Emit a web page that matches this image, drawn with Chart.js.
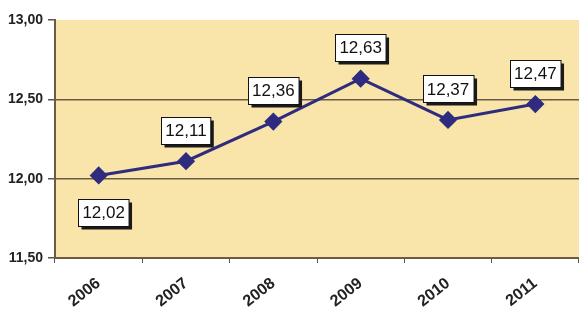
<!DOCTYPE html>
<html>
<head>
<meta charset="utf-8">
<script src="https://cdn.jsdelivr.net/npm/chart.js@4.4.1/dist/chart.umd.min.js"></script>
<style>
  html, body { margin: 0; padding: 0; background: #ffffff; }
  #wrap { width: 579px; height: 310px; }
</style>
</head>
<body>
<div id="wrap"><canvas id="c" width="579" height="310"></canvas></div>
<script>
// ----- Data -----
const years  = ['2006', '2007', '2008', '2009', '2010', '2011'];
const values = [12.02, 12.11, 12.36, 12.63, 12.37, 12.47];
const labelBelow = [true, false, false, false, false, false];
const yTicks = [11.5, 12.0, 12.5, 13.0];

const fmt = v => v.toFixed(2).replace('.', ',');

// ----- Plugins -----
const plotBackground = {
  id: 'plotBackground',
  beforeDraw(chart) {
    const { ctx, chartArea: a } = chart;
    ctx.save();
    ctx.fillStyle = '#f9e4aa';
    ctx.fillRect(a.left, a.top, a.right - a.left, a.bottom - a.top);
    ctx.restore();
  },
};

const boxLabels = {
  id: 'boxLabels',
  afterDatasetsDraw(chart) {
    const { ctx } = chart;
    const meta = chart.getDatasetMeta(0);
    ctx.save();
    ctx.font = '17px "Liberation Sans", Arial, sans-serif';
    ctx.textAlign = 'center';
    ctx.textBaseline = 'middle';
    meta.data.forEach((pt, i) => {
      const text = fmt(values[i]);
      const w = ctx.measureText(text).width + 8;
      const h = 27;
      const cx = pt.x + (labelBelow[i] ? 5 : 0);
      const cy = labelBelow[i] ? pt.y + 37 : pt.y - 31;
      const x = Math.round(cx - w / 2) + 0.5;
      const y = Math.round(cy - h / 2) + 0.5;
      // shadow
      ctx.fillStyle = '#1a1a1a';
      ctx.fillRect(x + 3, y + 3, w, h);
      ctx.fillStyle = '#ffffff';
      ctx.fillRect(x, y, w, h);
      ctx.strokeStyle = '#111111';
      ctx.lineWidth = 1;
      ctx.strokeRect(x, y, w, h);
      ctx.fillStyle = '#111111';
      ctx.fillText(text, cx, cy + 1);
    });
    ctx.restore();
  },
};

// ----- Chart -----
new Chart(document.getElementById('c'), {
  type: 'line',
  data: {
    labels: years,
    datasets: [{
      data: values,
      borderColor: '#2f2b7f',
      borderWidth: 3,
      pointStyle: 'rectRot',
      pointRadius: 7,
      pointBackgroundColor: '#2f2b7f',
      pointBorderColor: '#2f2b7f',
      tension: 0,
      clip: false,
    }],
  },
  options: {
    responsive: false,
    animation: false,
    layout: { autoPadding: false, padding: { top: 20, right: -4, left: 0, bottom: 0 } },
    plugins: { legend: { display: false }, tooltip: { enabled: false } },
    scales: {
      x: {
        offset: true,
        afterFit(s) { s.height = 52; s.paddingLeft = 0; s.paddingRight = 0; },
        grid: {
          offset: true,
          drawOnChartArea: false,
          drawTicks: true,
          tickLength: 5,
          tickColor: '#555',
        },
        border: { color: '#6b5a44', width: 2 },
        ticks: {
          color: '#222',
          minRotation: 38,
          maxRotation: 38,
          padding: 11,
          font: { family: '"Liberation Sans", Arial, sans-serif', size: 16, weight: 'bold' },
        },
      },
      y: {
        min: 11.5,
        max: 13,
        afterFit(s) { s.width = 55; },
        afterBuildTicks(s) { s.ticks = yTicks.map(v => ({ value: v })); },
        grid: {
          color: c => (c.tick && (c.tick.value === 13 || c.tick.value === 11.5)) ? 'rgba(0,0,0,0)' : '#6b5a44',
          lineWidth: 1.5,
          tickLength: 7,
          tickColor: '#555',
        },
        border: { color: '#6b5a44', width: 2 },
        ticks: {
          color: '#222',
          padding: 5,
          callback: v => fmt(v),
          font: { family: '"Liberation Sans", Arial, sans-serif', size: 14, weight: 'bold' },
        },
      },
    },
  },
  plugins: [plotBackground, boxLabels],
});
</script>
</body>
</html>
